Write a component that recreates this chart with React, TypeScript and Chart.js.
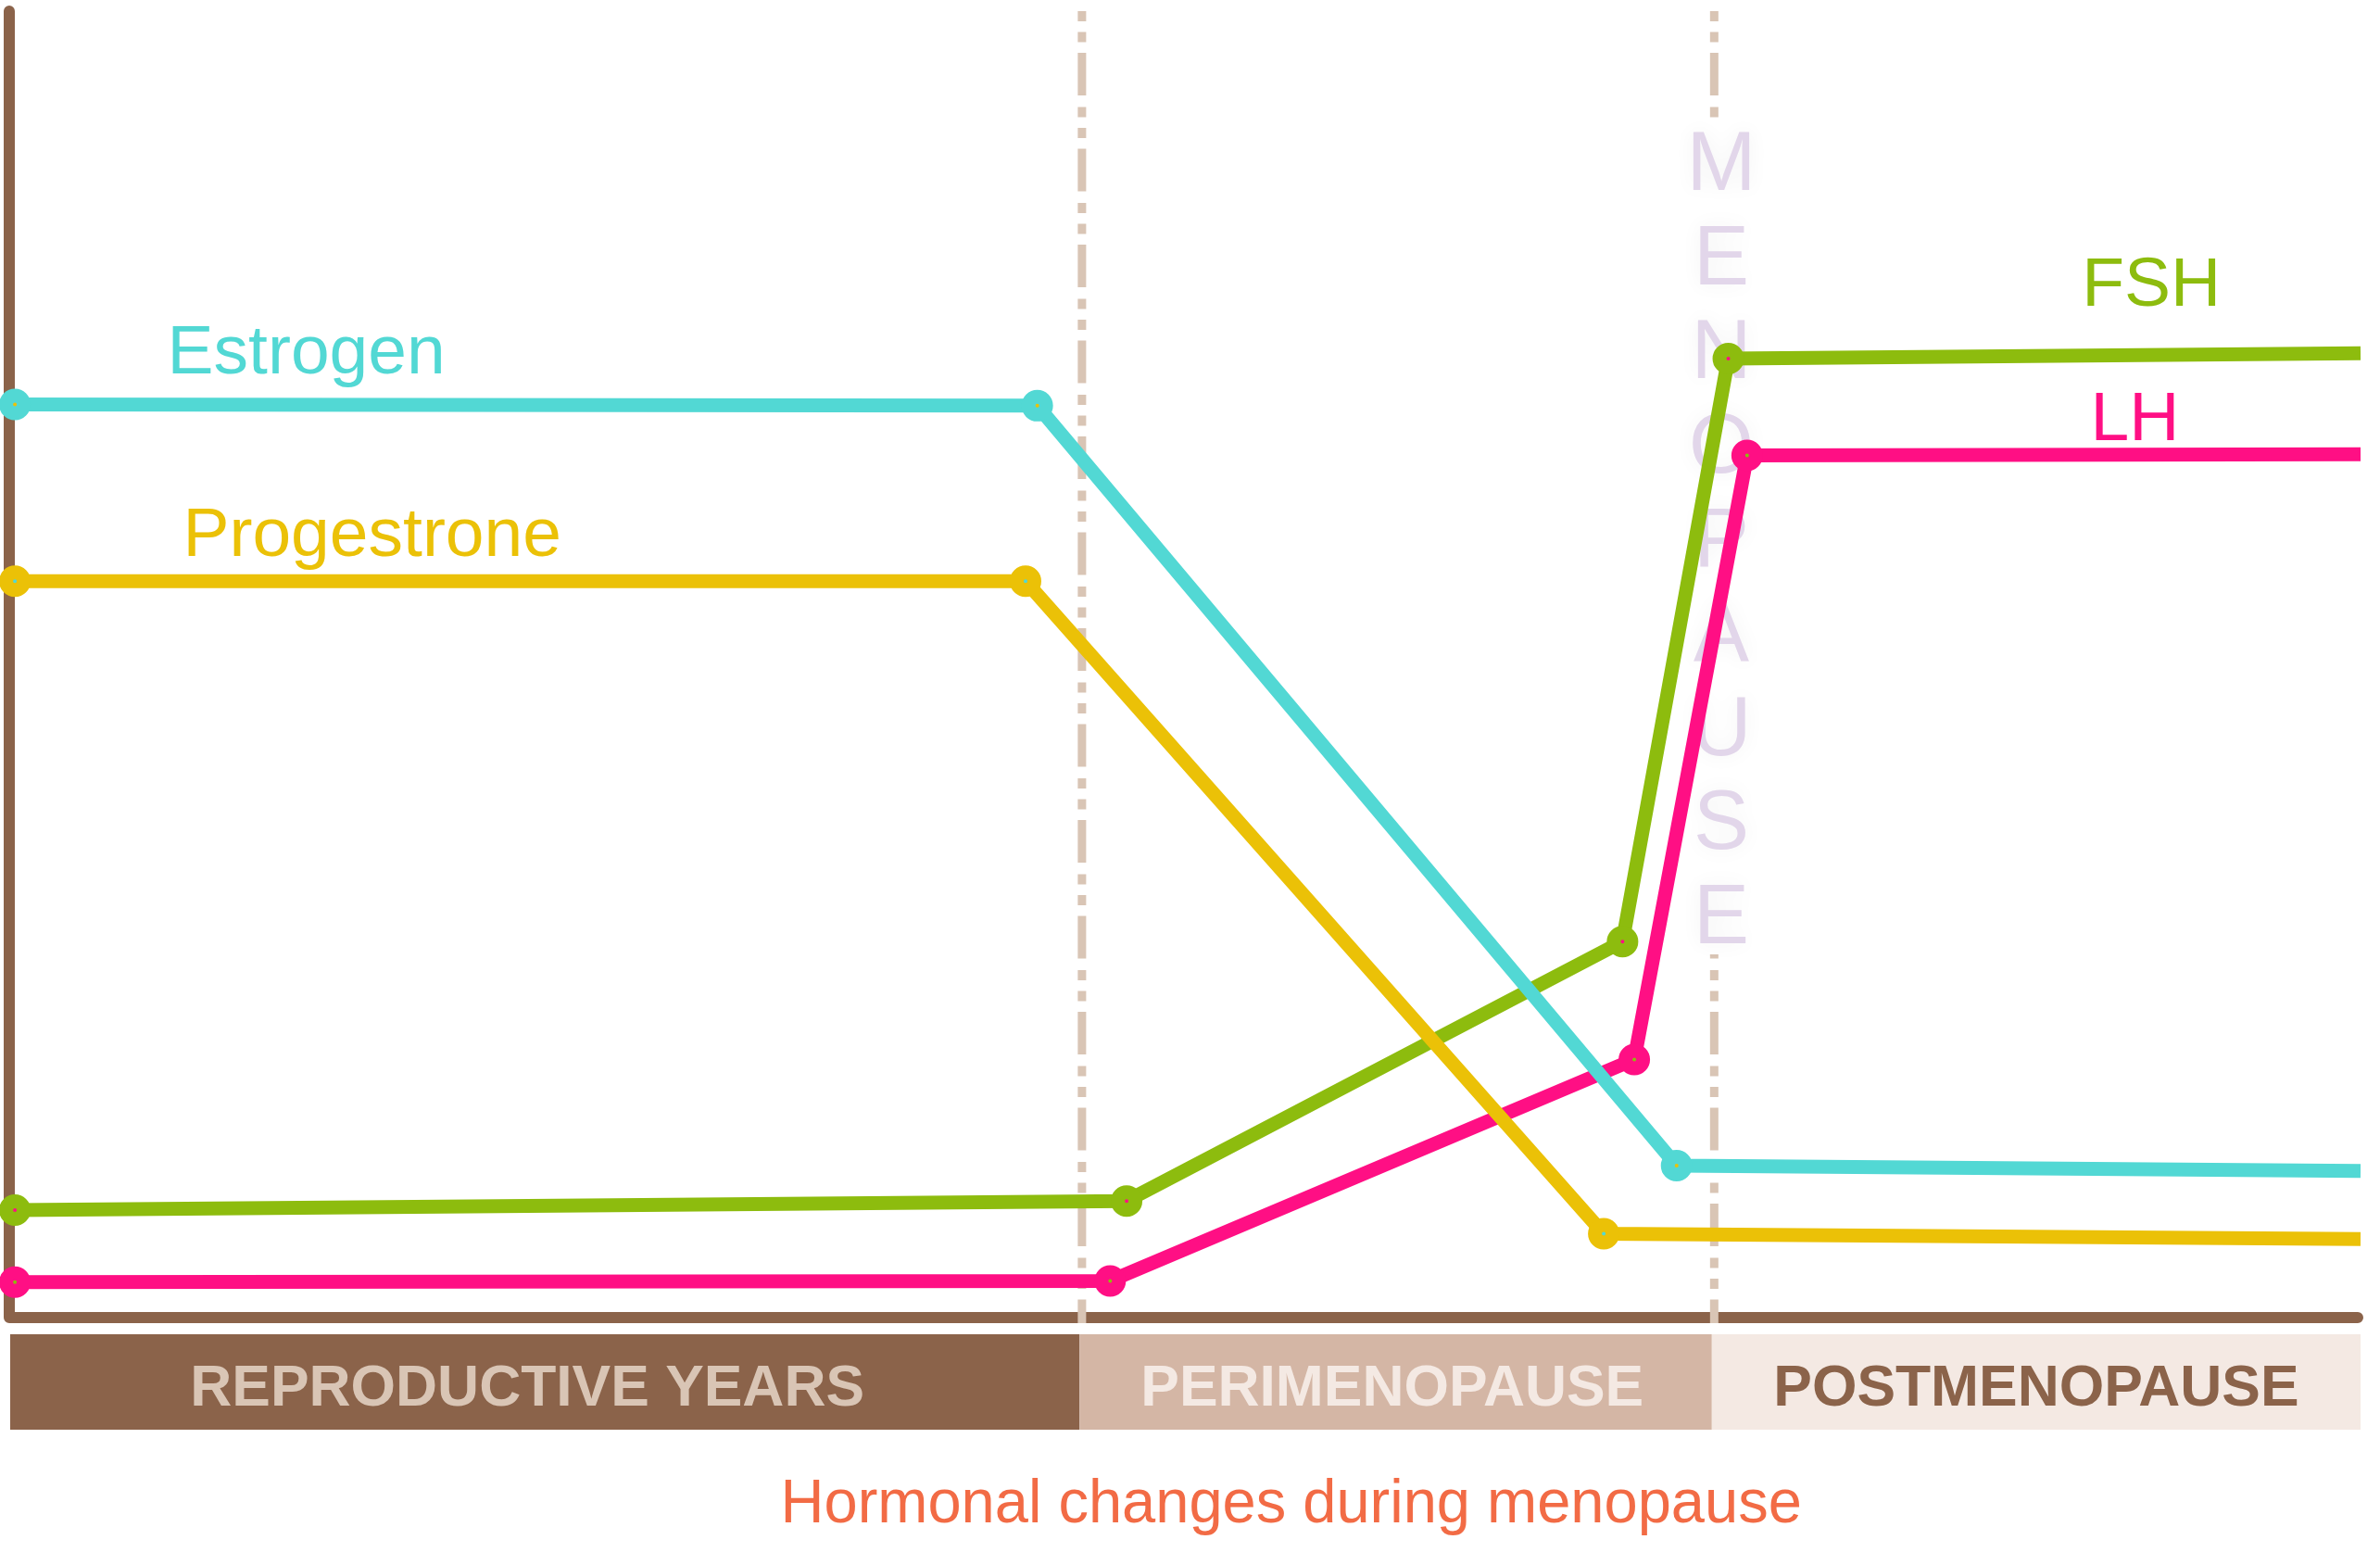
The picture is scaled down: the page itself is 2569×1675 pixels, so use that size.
import React, { useEffect, useRef } from 'react';
import { Chart, registerables } from 'chart.js';

Chart.register(...registerables);

// ---- Data (x: relative time 0..100, y: relative hormone level 0..100) ----
const xEstrogen = [0.2, 43.7, 70.9, 100];
const estrogen = [69.7, 69.6, 11.6, 11.2];
const xProgesterone = [0.2, 43.2, 67.8, 100];
const progesterone = [56.2, 56.2, 6.4, 6.0];
const xFSH = [0.2, 47.5, 68.6, 73.1, 100];
const fsh = [8.2, 8.9, 28.7, 73.2, 73.6];
const xLH = [0.2, 46.8, 69.1, 73.9, 100];
const lh = [2.7, 2.8, 19.7, 65.8, 65.9];

const seriesNames = ['Estrogen', 'Progestrone', 'FSH', 'LH'];
const phases = ['REPRODUCTIVE YEARS', 'PERIMENOPAUSE', 'POSTMENOPAUSE'];
const phaseBounds = [0, 45.5, 72.4, 100];
const dividerX = [45.6, 72.5];
const menopauseWord = 'MENOPAUSE';
const titleText = 'Hormonal changes during menopause';

// ---- Styling / placement ----
const C = {
  estrogen: '#52D8D4',
  progesterone: '#EBC107',
  fsh: '#8DBC0E',
  lh: '#FF0F84',
  brown: '#8B634A',
  tan: '#D9C5B5',
  peri: '#D4B6A5',
  post: '#F4E9E3',
  lavender: '#E2D6EA',
  title: '#F26B45',
};
const FONT = "'Liberation Sans', Arial, Helvetica, sans-serif";
const seriesLabelPos = [
  { x: 12.6, y: 72.1 },
  { x: 15.4, y: 58.1 },
  { x: 91.1, y: 77.2 },
  { x: 90.4, y: 67.0 },
];
const phaseLabelX = [22.0, 58.8, 86.2];
const titleX = 54.5;
const letterTopY = 86.07;
const letterStepY = 7.185;
const letterX = 72.8;

function pts(xs: number[], ys: number[]) {
  return xs.map((x, i) => ({ x, y: ys[i] }));
}

function markerRadius(n: number) {
  return Array.from({ length: n }, (_, i) => (i === n - 1 ? 0 : 9.5));
}
function markerBorder(n: number) {
  return Array.from({ length: n }, (_, i) => (i === n - 1 ? 0 : 15));
}

const decorPlugin = {
  id: 'decor',
  beforeDatasetsDraw(chart: any) {
    const ctx = chart.ctx as CanvasRenderingContext2D;
    const { left, right, top, bottom } = chart.chartArea;
    const xs = chart.scales.x;
    const ys = chart.scales.y;
    ctx.save();

    // axes
    ctx.strokeStyle = C.brown;
    ctx.lineWidth = 12;
    ctx.lineCap = 'round';
    ctx.lineJoin = 'round';
    ctx.beginPath();
    ctx.moveTo(left - 1, top + 4);
    ctx.lineTo(left - 1, bottom);
    ctx.lineTo(right - 3, bottom);
    ctx.stroke();

    // phase bands
    const bandColors = [C.brown, C.peri, C.post];
    const textColors = [C.tan, C.post, C.brown];
    for (let i = 0; i < phases.length; i++) {
      const x0 = xs.getPixelForValue(phaseBounds[i]);
      const x1 = xs.getPixelForValue(phaseBounds[i + 1]);
      ctx.fillStyle = bandColors[i];
      ctx.fillRect(x0, bottom + 18, x1 - x0, 103);
      ctx.save();
      ctx.translate(xs.getPixelForValue(phaseLabelX[i]), bottom + 95);
      ctx.scale(0.99, 1);
      ctx.fillStyle = textColors[i];
      ctx.font = `bold 63px ${FONT}`;
      ctx.textAlign = 'center';
      ctx.textBaseline = 'alphabetic';
      ctx.fillText(phases[i], 0, 0);
      ctx.restore();
    }

    // title
    ctx.save();
    ctx.translate(xs.getPixelForValue(titleX), bottom + 221);
    ctx.scale(0.985, 1);
    ctx.fillStyle = C.title;
    ctx.font = `66px ${FONT}`;
    ctx.textAlign = 'center';
    ctx.textBaseline = 'alphabetic';
    ctx.fillText(titleText, 0, 0);
    ctx.restore();

    // dash-dot dividers
    ctx.strokeStyle = C.tan;
    ctx.lineWidth = 9;
    ctx.lineCap = 'butt';
    ctx.setLineDash([11, 11.5, 11, 11.5, 46, 12.5]);
    for (const d of dividerX) {
      const px = xs.getPixelForValue(d);
      ctx.beginPath();
      ctx.moveTo(px, top + 4);
      ctx.lineTo(px, bottom + 6);
      ctx.stroke();
    }
    ctx.setLineDash([]);

    // white halo behind the vertical word
    const wx = xs.getPixelForValue(dividerX[1]);
    ctx.fillStyle = '#FFFFFF';
    ctx.fillRect(wx - 12, top + 122, 24, 900);

    // vertical MENOPAUSE
    ctx.font = `90px ${FONT}`;
    ctx.textAlign = 'center';
    ctx.textBaseline = 'alphabetic';
    ctx.fillStyle = C.lavender;
    ctx.shadowColor = 'rgba(0,0,0,0.06)';
    ctx.shadowBlur = 22;
    const lx = xs.getPixelForValue(letterX);
    menopauseWord.split('').forEach((ch, i) => {
      ctx.fillText(ch, lx, ys.getPixelForValue(letterTopY - letterStepY * i));
    });
    ctx.restore();
  },
  afterDatasetsDraw(chart: any) {
    const ctx = chart.ctx as CanvasRenderingContext2D;
    const xs = chart.scales.x;
    const ys = chart.scales.y;
    const colors = [C.estrogen, C.progesterone, C.fsh, C.lh];
    ctx.save();
    ctx.font = `75px ${FONT}`;
    ctx.textAlign = 'center';
    ctx.textBaseline = 'alphabetic';
    seriesNames.forEach((name, i) => {
      ctx.fillStyle = colors[i];
      ctx.fillText(name, xs.getPixelForValue(seriesLabelPos[i].x), ys.getPixelForValue(seriesLabelPos[i].y));
    });
    ctx.restore();
  },
};

export default function App() {
  const ref = useRef<HTMLCanvasElement | null>(null);

  useEffect(() => {
    if (!ref.current) return;
    const mk = (label: string, xs: number[], ys: number[], color: string, dot: string) => ({
      label,
      data: pts(xs, ys),
      borderColor: color,
      backgroundColor: color,
      borderWidth: 15,
      borderCapStyle: 'butt' as const,
      borderJoinStyle: 'round' as const,
      tension: 0,
      pointRadius: markerRadius(xs.length),
      pointBorderWidth: markerBorder(xs.length),
      pointBorderColor: color,
      pointBackgroundColor: dot,
      clip: false as const,
    });
    const chart = new Chart(ref.current, {
      type: 'line',
      data: {
        datasets: [
          mk(seriesNames[0], xEstrogen, estrogen, C.estrogen, C.progesterone),
          mk(seriesNames[1], xProgesterone, progesterone, C.progesterone, C.estrogen),
          mk(seriesNames[2], xFSH, fsh, C.fsh, C.lh),
          mk(seriesNames[3], xLH, lh, C.lh, C.fsh),
        ] as any,
      },
      options: {
        animation: false,
        responsive: false,
        events: [],
        layout: { autoPadding: false, padding: { left: 11, right: 21, top: 8, bottom: 253 } },
        plugins: { legend: { display: false }, tooltip: { enabled: false } },
        scales: {
          x: { type: 'linear', min: 0, max: 100, display: false },
          y: { type: 'linear', min: 0, max: 100, display: false },
        },
      },
      plugins: [decorPlugin],
    });
    return () => chart.destroy();
  }, []);

  return (
    <div style={{ position: 'fixed', left: 0, top: 0, width: 2569, height: 1675, background: '#fff' }}>
      <canvas ref={ref} width={2569} height={1675} style={{ display: 'block' }} />
    </div>
  );
}
